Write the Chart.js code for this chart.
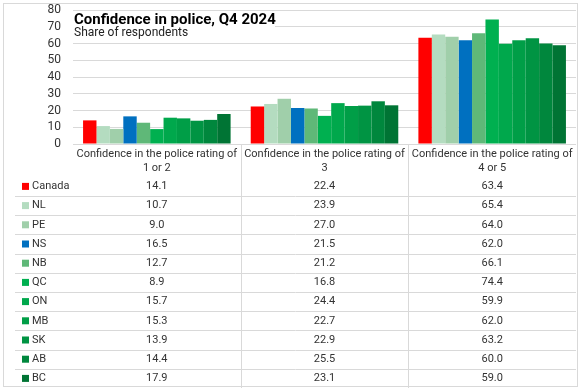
<!DOCTYPE html>
<html>
<head>
<meta charset="utf-8">
<script src="https://cdn.jsdelivr.net/npm/chart.js@4/dist/chart.umd.min.js"></script>
<style>
  html, body { margin: 0; padding: 0; background: #fff; }
  #wrap { width: 580px; height: 389px; }
</style>
</head>
<body>
<div id="wrap"><canvas id="myChart" width="580" height="389"></canvas></div>
<script>
const categories = [
    ['Confidence in the police rating of', '1 or 2'],
    ['Confidence in the police rating of', '3'],
    ['Confidence in the police rating of', '4 or 5']
];
const regions = ['Canada', 'NL', 'PE', 'NS', 'NB', 'QC', 'ON', 'MB', 'SK', 'AB', 'BC'];
const rating12 = [14.1, 10.7, 9.0, 16.5, 12.7, 8.9, 15.7, 15.3, 13.9, 14.4, 17.9];
const rating3 = [22.4, 23.9, 27.0, 21.5, 21.2, 16.8, 24.4, 22.7, 22.9, 25.5, 23.1];
const rating45 = [63.4, 65.4, 64.0, 62.0, 66.1, 74.4, 59.9, 62.0, 63.2, 60.0, 59.0];
const yTicks = [0, 10, 20, 30, 40, 50, 60, 70, 80];

const colors = ['#ff0000', '#b4dcc0', '#a0cfaa', '#0070c0', '#5fb878', '#00b050',
                '#00a84c', '#009e47', '#009443', '#00873d', '#007434'];
const FONT = "Roboto, 'Liberation Sans', sans-serif";
const TXT = '#333333';
const LINE = '#d9d9d9';

const datasets = regions.map((r, i) => ({
    label: r,
    data: [rating12[i], rating3[i], rating45[i]],
    backgroundColor: colors[i],
    borderWidth: 0,
    categoryPercentage: 0.88,
    barPercentage: 1.0
}));

// title + data table drawn under the plot
const tablePlugin = {
    id: 'tablePlugin',
    afterDraw(chart) {
        const c = chart.ctx;
        const area = chart.chartArea;
        const x = chart.scales.x;
        const catW = (area.right - area.left) / categories.length;
        const top = area.bottom;
        const headH = 32.8;
        const rowH = 19.2;
        const bottom = top + headH + rowH * regions.length;

        c.save();
        // title box
        c.fillStyle = '#fff';
        c.fillRect(area.left, area.top + 2, 202, 28);
        c.fillStyle = '#000';
        c.textAlign = 'left';
        c.textBaseline = 'middle';
        c.font = 'bold 15px ' + FONT;
        c.fillText('Confidence in police, Q4 2024', area.left + 1, area.top + 10);
        c.font = '12px ' + FONT;
        c.fillStyle = '#222';
        c.fillText('Share of respondents', area.left + 1, area.top + 23);

        // table lines
        c.strokeStyle = LINE;
        c.lineWidth = 1;
        c.beginPath();
        for (let k = 1; k < categories.length; k++) {
            const px = Math.round(area.left + catW * k) + 0.5;
            c.moveTo(px, top);
            c.lineTo(px, bottom);
        }
        for (let r = 1; r < regions.length; r++) {
            const py = Math.round(top + headH + rowH * r) + 0.5;
            c.moveTo(15, py);
            c.lineTo(area.right, py);
        }
        c.stroke();

        // header
        c.fillStyle = TXT;
        c.textAlign = 'center';
        c.font = '11px ' + FONT;
        categories.forEach((lines, k) => {
            const cx = x.getPixelForValue(k);
            lines.forEach((t, j) => c.fillText(t, cx, top + 10 + j * 14));
        });

        // rows
        regions.forEach((r, i) => {
            const cy = top + headH + rowH * i + rowH / 2;
            c.fillStyle = colors[i];
            c.fillRect(22, cy - 3.5, 7, 7);
            c.fillStyle = TXT;
            c.textAlign = 'left';
            c.fillText(r, 32, cy);
            c.textAlign = 'center';
            chart.data.datasets[i].data.forEach((v, k) => {
                c.fillText(v.toFixed(1), x.getPixelForValue(k), cy);
            });
        });

        // outer border
        c.strokeStyle = LINE;
        c.strokeRect(3.5, 3.5, 574, 383);
        c.restore();
    }
};

const ctx = document.getElementById('myChart').getContext('2d');
const myChart = new Chart(ctx, {
    type: 'bar',
    data: {
        labels: categories,
        datasets: datasets
    },
    options: {
        responsive: false,
        animation: false,
        layout: {
            padding: { top: 10, right: 4, bottom: 245, left: 0 }
        },
        plugins: {
            legend: { display: false },
            title: { display: false },
            tooltip: { enabled: false }
        },
        scales: {
            x: {
                display: false
            },
            y: {
                min: 0,
                max: 80,
                afterFit(scale) {
                    scale.width = 73;
                    scale.paddingTop = 0;
                    scale.paddingBottom = 0;
                },
                afterBuildTicks(scale) { scale.ticks = yTicks.map(v => ({ value: v })); },
                grid: { color: LINE, drawTicks: false },
                border: { display: false },
                ticks: {
                    autoSkip: false,
                    padding: 12,
                    color: TXT,
                    font: { family: FONT, size: 12 }
                }
            }
        }
    },
    plugins: [tablePlugin]
});
</script>
</body>
</html>
